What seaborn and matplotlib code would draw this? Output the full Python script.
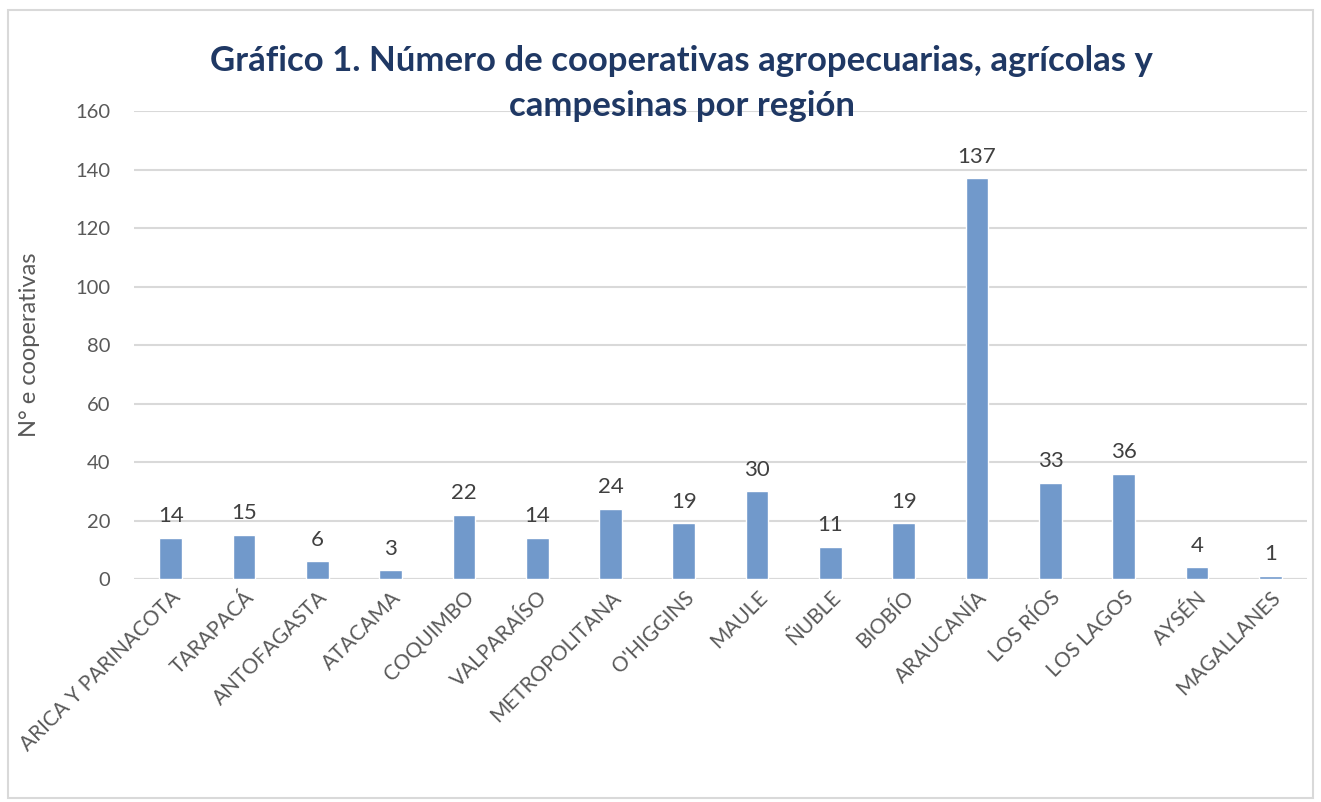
import pandas as pd
import matplotlib.pyplot as plt
import seaborn as sns
from matplotlib.patches import Rectangle

regiones = ["ARICA Y PARINACOTA", "TARAPACÁ", "ANTOFAGASTA", "ATACAMA", "COQUIMBO",
            "VALPARAÍSO", "METROPOLITANA", "O'HIGGINS", "MAULE", "ÑUBLE", "BIOBÍO",
            "ARAUCANÍA", "LOS RÍOS", "LOS LAGOS", "AYSÉN", "MAGALLANES"]
cooperativas = [14, 15, 6, 3, 22, 14, 24, 19, 30, 11, 19, 137, 33, 36, 4, 1]
y_ticks = [0, 20, 40, 60, 80, 100, 120, 140, 160]

df = pd.DataFrame({"region": regiones, "n": cooperativas})

sns.set_style("white")
plt.rcParams["font.family"] = ["Lato", "DejaVu Sans"]

fig = plt.figure(figsize=(13.21, 8.02), dpi=100)
ax = fig.add_axes([0.1014, 0.278, 0.888, 0.5836])

sns.barplot(data=df, x="region", y="n", color="#7199CB", width=0.31,
            saturation=1, ax=ax, zorder=3)

ax.set_ylim(0, 160)
ax.set_yticks(y_ticks)
ax.set_xlim(-0.5, len(regiones) - 0.5)
ax.yaxis.grid(True, color="#D9D9D9", lw=1.5, zorder=0)
ax.set_axisbelow(True)
sns.despine(ax=ax, left=True, top=True, right=True, bottom=True)
ax.axhline(0, color="#D9D9D9", lw=1.5, zorder=1)

ax.tick_params(axis="y", length=0, labelsize=14.5, labelcolor="#595959", pad=17)
ax.tick_params(axis="x", length=0, labelsize=15, labelcolor="#595959", pad=6)
plt.setp(ax.get_xticklabels(), rotation=45, ha="right", rotation_mode="anchor")

for i, v in enumerate(cooperativas):
    ax.text(i, v + 4, str(v), ha="center", va="bottom", fontsize=16, color="#404040")

ax.set_xlabel("")
ax.set_ylabel("N° e cooperativas", fontsize=17, color="#595959", labelpad=25)

fig.text(0.516, 0.924, "Gráfico 1. Número de cooperativas agropecuarias, agrícolas y",
         ha="center", va="center", fontsize=25, fontweight="bold", color="#1F3864")
fig.text(0.516, 0.868, "campesinas por región",
         ha="center", va="center", fontsize=25, fontweight="bold", color="#1F3864")

fig.patches.append(Rectangle((0.006, 0.005), 0.988, 0.983, transform=fig.transFigure,
                             fill=False, edgecolor="#D9D9D9", lw=1.5))

fig.savefig("out.png", dpi=100)
